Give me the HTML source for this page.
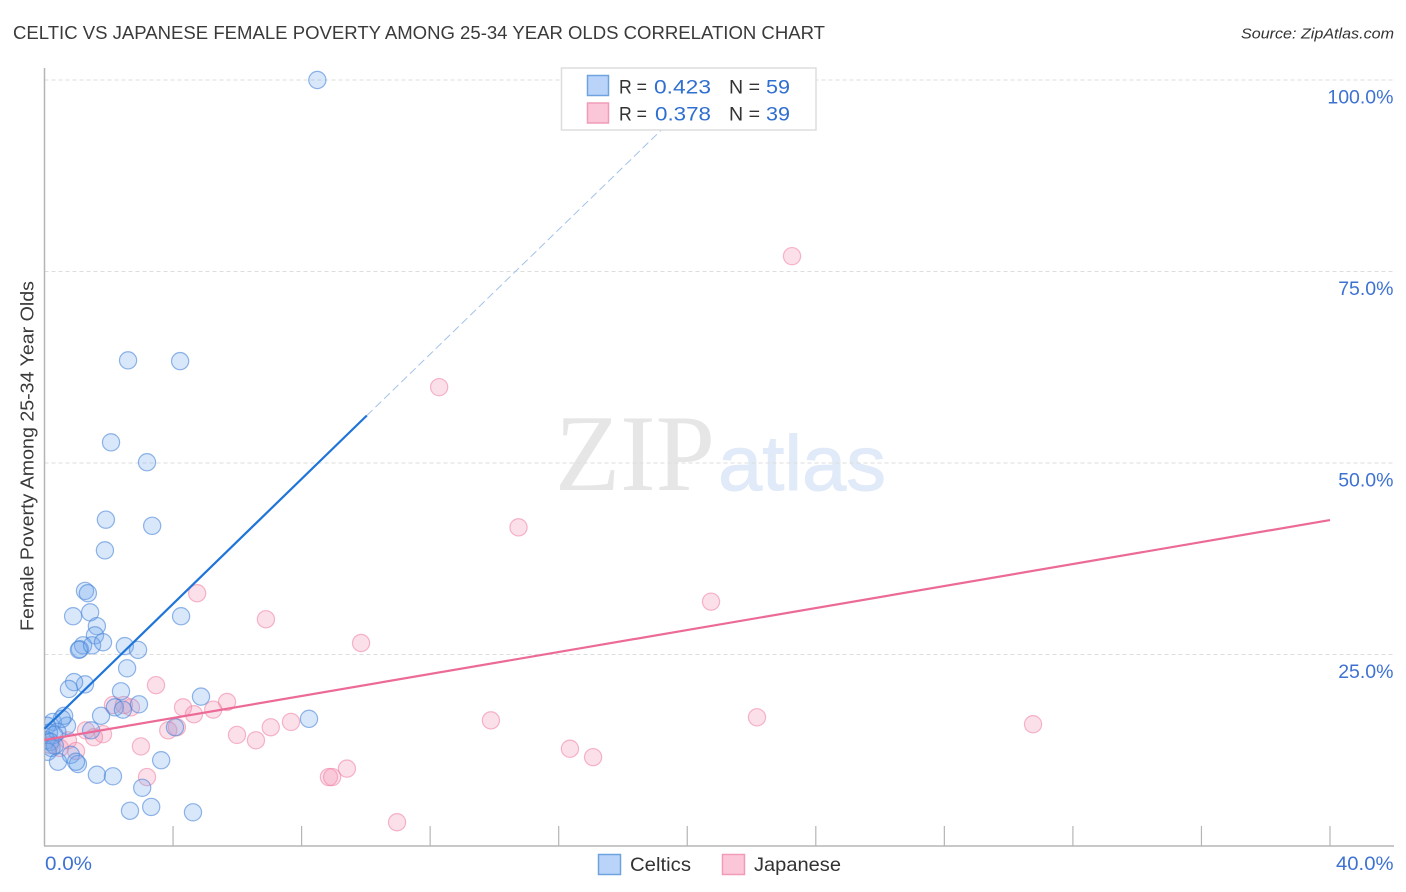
<!DOCTYPE html>
<html lang="en">
<head>
<meta charset="utf-8">
<title>Celtic vs Japanese Female Poverty Among 25-34 Year Olds Correlation Chart</title>
<style>
html,body{margin:0;padding:0;background:#fff;width:1406px;height:892px;overflow:hidden}
svg{display:block}
text{font-family:"Liberation Sans",sans-serif}
</style>
</head>
<body>
<svg id="chart" width="1406" height="892" viewBox="0 0 1406 892" xmlns="http://www.w3.org/2000/svg">
  <defs><clipPath id="plot-clip"><rect x="45" y="60" width="1360" height="786"/></clipPath></defs>
  <text x="13" y="39" font-size="18.5" fill="#3a3a3a" textLength="812" lengthAdjust="spacingAndGlyphs">CELTIC VS JAPANESE FEMALE POVERTY AMONG 25-34 YEAR OLDS CORRELATION CHART</text>
  <text x="1241" y="38.5" font-size="15" font-style="italic" fill="#333" textLength="153" lengthAdjust="spacingAndGlyphs">Source: ZipAtlas.com</text>
  <text x="555" y="490" font-size="109" fill="#e6e6e6" textLength="160" lengthAdjust="spacingAndGlyphs" style="font-family:'Liberation Serif',serif">ZIP</text>
  <text x="718" y="490" font-size="78" fill="#e0eaf8" stroke="#e0eaf8" stroke-width="1" textLength="168" lengthAdjust="spacingAndGlyphs">atlas</text>
  <g id="grid"></g>
  <g id="axes"></g>
  <g id="points" clip-path="url(#plot-clip)"></g>
  <g id="trends"></g>
  <g id="labels"></g>
  <text transform="translate(33.5,456) rotate(-90)" font-size="18.5" fill="#3a3a3a" text-anchor="middle" textLength="350" lengthAdjust="spacingAndGlyphs">Female Poverty Among 25-34 Year Olds</text>

  <g>
    <rect x="561.5" y="68" width="254.5" height="62" fill="#fff" stroke="#ddd" stroke-width="1.5"/>
    <rect x="587.5" y="75.5" width="21" height="20" fill="#b9d4f8" stroke="#6fa3e0" stroke-width="1.5"/>
    <rect x="587.5" y="103" width="21" height="20" fill="#fcc6d9" stroke="#f09bb8" stroke-width="1.5"/>
    <text x="619" y="93.5" font-size="19.5" fill="#333" textLength="28" lengthAdjust="spacingAndGlyphs">R =</text>
    <text x="654" y="93.5" font-size="19.5" fill="#2f6fd0" textLength="57" lengthAdjust="spacingAndGlyphs">0.423</text>
    <text x="729" y="93.5" font-size="19.5" fill="#333" textLength="31" lengthAdjust="spacingAndGlyphs">N =</text>
    <text x="766" y="93.5" font-size="19.5" fill="#2f6fd0" textLength="24" lengthAdjust="spacingAndGlyphs">59</text>
    <text x="619" y="120.5" font-size="19.5" fill="#333" textLength="28" lengthAdjust="spacingAndGlyphs">R =</text>
    <text x="655" y="120.5" font-size="19.5" fill="#2f6fd0" textLength="56" lengthAdjust="spacingAndGlyphs">0.378</text>
    <text x="729" y="120.5" font-size="19.5" fill="#333" textLength="31" lengthAdjust="spacingAndGlyphs">N =</text>
    <text x="766" y="120.5" font-size="19.5" fill="#2f6fd0" textLength="24" lengthAdjust="spacingAndGlyphs">39</text>
  </g>

  <g>
    <rect x="598.5" y="854.5" width="22" height="20" fill="#b9d4f8" stroke="#6fa3e0" stroke-width="1.5"/>
    <text x="630" y="871" font-size="19.5" fill="#333" textLength="61" lengthAdjust="spacingAndGlyphs">Celtics</text>
    <rect x="722.5" y="854.5" width="22" height="20" fill="#fcc6d9" stroke="#f09bb8" stroke-width="1.5"/>
    <text x="754" y="871" font-size="19.5" fill="#333" textLength="87" lengthAdjust="spacingAndGlyphs">Japanese</text>
  </g>
</svg>
<script>
const yTicks = [25, 50, 75, 100];
const yTickLabels = ["25.0%", "50.0%", "75.0%", "100.0%"];
const xTicks = [0, 4, 8, 12, 16, 20, 24, 28, 32, 36, 40];
const xEndLabels = ["0.0%", "40.0%"];

const celticsX = [8.49,2.60,4.22,2.07,3.19,1.91,3.35,1.88,1.26,1.35,1.42,0.89,4.25,1.63,1.57,1.20,1.10,1.07,1.48,1.82,2.50,2.91,2.57,2.38,1.26,0.92,0.76,4.87,2.94,2.19,2.44,1.76,8.23,3.63,1.63,2.13,3.04,3.32,2.66,4.62,0.26,0.08,0.70,0.40,0.14,0.30,0.06,0.18,0.22,0.32,0.10,0.61,0.54,0.82,1.04,0.98,0.42,1.45,4.06];
const celticsY = [100,63.4,63.3,52.7,50.1,42.6,41.8,38.6,33.3,33.0,30.5,30.0,30.0,28.7,27.5,26.2,25.7,25.6,26.2,26.6,26.1,25.6,23.2,20.2,21.1,21.4,20.5,19.5,18.5,18.1,17.8,17.0,16.6,11.2,9.3,9.1,7.6,5.1,4.6,4.4,16.2,15.7,15.7,14.9,14.8,14.5,13.8,13.6,12.8,13.1,12.3,17.0,16.6,11.9,10.7,11.0,11.0,15.1,15.5];
const japaneseX = [23.26,12.28,14.75,4.75,20.74,6.89,9.85,3.47,5.68,4.31,2.69,2.13,2.47,4.65,5.25,22.17,30.76,7.67,13.89,7.04,4.12,3.85,5.99,6.58,3.00,16.35,17.07,9.41,8.85,8.95,3.19,10.97,1.29,1.82,1.54,0.17,0.73,0.48,0.98];
const japaneseY = [77.0,59.9,41.6,33.0,31.9,29.6,26.5,21.0,18.8,18.1,18.1,18.4,18.4,17.2,17.8,16.8,15.9,16.2,16.4,15.5,15.5,15.1,14.5,13.8,13.0,12.7,11.6,10.1,9.0,9.0,9.0,3.1,15.1,14.6,14.2,13.2,13.8,12.8,12.4];

const celticsTrendX = [0, 10.03];
const celticsTrendY = [15.3, 56.2];
const celticsDashX = [10.03, 20.8];
const celticsDashY = [56.2, 100];
const japaneseTrendX = [0, 40];
const japaneseTrendY = [13.84, 42.55];

const NS = "http://www.w3.org/2000/svg";
const sx = v => 44.5 + v / 40 * 1285.5;
const sy = v => 846 - v / 100 * 766;
function mk(parent, tag, attrs) {
  const el = document.createElementNS(NS, tag);
  for (const k in attrs) el.setAttribute(k, attrs[k]);
  document.getElementById(parent).appendChild(el);
  return el;
}

yTicks.forEach((t) => {
  const g = mk("grid", "line", {x1: 44.5, x2: 1394, y1: sy(t), y2: sy(t), stroke: "#dddddd", "stroke-width": 1, "stroke-dasharray": "4 3"});
  
  
});

const yAxis = mk("axes", "line", {x1: 44.5, x2: 44.5, y1: 68, y2: 846, stroke: "#b5b5b5", "stroke-width": 1.5});


const xAxis = mk("axes", "line", {x1: 44, x2: 1394, y1: 846, y2: 846, stroke: "#b5b5b5", "stroke-width": 1.5});


xTicks.forEach((t) => {
  if (t === 0) return;
  const k = mk("axes", "line", {x1: sx(t), x2: sx(t), y1: 826, y2: 846, stroke: "#b5b5b5", "stroke-width": 1.2});
  
  
});

japaneseX.forEach((v, i) => {
  const c = mk("points", "circle", {cx: sx(v), cy: sy(japaneseY[i]), r: 8.6, fill: "#f48fb1", "fill-opacity": 0.28, stroke: "#ee7da0", "stroke-opacity": 0.55, "stroke-width": 1.2});
  
  
});
celticsX.forEach((v, i) => {
  const c = mk("points", "circle", {cx: sx(v), cy: sy(celticsY[i]), r: 8.6, fill: "#6ea6ee", "fill-opacity": 0.27, stroke: "#4a86d8", "stroke-opacity": 0.6, "stroke-width": 1.2});
  
  
});

const t1 = mk("trends", "line", {x1: sx(celticsTrendX[0]), y1: sy(celticsTrendY[0]), x2: sx(celticsTrendX[1]), y2: sy(celticsTrendY[1]), stroke: "#1f74d8", "stroke-width": 2.2});


const t2 = mk("trends", "line", {x1: sx(celticsDashX[0]), y1: sy(celticsDashY[0]), x2: sx(celticsDashX[1]), y2: sy(celticsDashY[1]), stroke: "#a3c2ea", "stroke-width": 1, "stroke-dasharray": "8 4"});


const t3 = mk("trends", "line", {x1: sx(japaneseTrendX[0]), y1: sy(japaneseTrendY[0]), x2: sx(japaneseTrendX[1]), y2: sy(japaneseTrendY[1]), stroke: "#ec6a97", "stroke-width": 2.2});



yTicks.forEach((t, i) => {
  const l = mk("labels", "text", {x: 1393.5, y: sy(t) + 23.5, "font-size": 19.5, fill: "#3e72d2", "text-anchor": "end"});
  
  
  l.textContent = yTickLabels[i];
});
const x0 = mk("labels", "text", {x: 45, y: 870, "font-size": 19.5, fill: "#3e72d2", textLength: 47, lengthAdjust: "spacingAndGlyphs"});


x0.textContent = xEndLabels[0];
const x1 = mk("labels", "text", {x: 1336, y: 870, "font-size": 19.5, fill: "#3e72d2", textLength: 57.5, lengthAdjust: "spacingAndGlyphs"});


x1.textContent = xEndLabels[1];
</script>
</body>
</html>
